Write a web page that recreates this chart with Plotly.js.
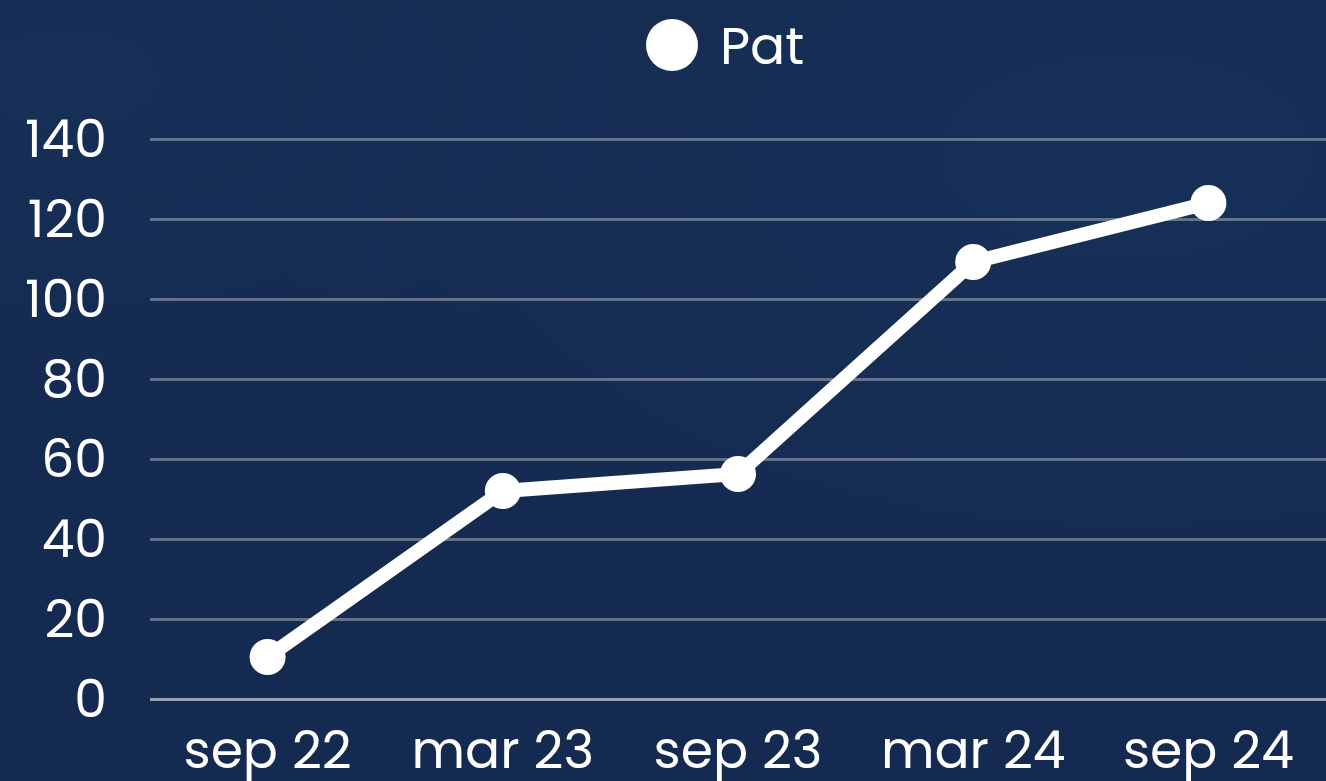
<!DOCTYPE html>
<html>
<head>
<meta charset="utf-8">
<script src="https://cdn.plot.ly/plotly-3.0.1.min.js"></script>
<style>
html,body{margin:0;padding:0;width:1326px;height:781px;overflow:hidden;
background:#152a50;
background-image:radial-gradient(ellipse at 85% 20%, rgba(30,70,120,0.22), rgba(0,0,0,0) 55%),radial-gradient(ellipse at 5% 10%, rgba(30,80,130,0.15), rgba(0,0,0,0) 35%);}
#chart{width:1326px;height:781px;}
</style>
</head>
<body>
<div id="chart"></div>
<script>
const categories = ["sep 22", "mar 23", "sep 23", "mar 24", "sep 24"];
const seriesName = "Pat";
const values = [10.5, 52, 56.25, 109.25, 124];
const yTicks = [0, 20, 40, 60, 80, 100, 120, 140];

const FONT = "Poppins, Inter, 'Open Sans', sans-serif";
const FS = 52;

const trace = {
  x: categories,
  y: values,
  name: seriesName,
  type: "scatter",
  mode: "lines+markers",
  line: {color: "#ffffff", width: 14},
  marker: {color: "#ffffff", size: 36},
  showlegend: false,
  cliponaxis: false,
  hoverinfo: "x+y"
};

const layout = {
  width: 1326, height: 781,
  paper_bgcolor: "rgba(0,0,0,0)",
  plot_bgcolor: "rgba(0,0,0,0)",
  margin: {l: 150, r: 0, t: 130, b: 82},
  font: {family: FONT, color: "#ffffff", size: FS},
  xaxis: {
    type: "category",
    range: [-0.5, 4.5],
    showgrid: false, zeroline: false, showline: false,
    ticks: "",
    tickfont: {family: FONT, size: FS, color: "#ffffff"},
    ticklabelstandoff: 16
  },
  yaxis: {
    range: [0, 142.25],
    tickvals: yTicks,
    ticktext: yTicks.map(String),
    showgrid: true,
    gridcolor: "rgba(255,255,255,0.33)",
    gridwidth: 2.5,
    zeroline: true,
    zerolinecolor: "rgba(255,255,255,0.55)",
    zerolinewidth: 2.5,
    showline: false,
    ticks: "",
    tickfont: {family: FONT, size: FS, color: "#ffffff"},
    ticklabelstandoff: 42
  },
  shapes: [{
    type: "circle",
    xref: "paper", yref: "paper",
    xsizemode: "pixel", ysizemode: "pixel",
    xanchor: (672 - 150) / 1176, yanchor: 1 + (130 - 45) / 569,
    x0: -26, x1: 26, y0: -26, y1: 26,
    fillcolor: "#ffffff", line: {width: 0}
  }],
  annotations: [{
    text: seriesName,
    xref: "paper", yref: "paper",
    x: (718 - 150) / 1176, y: 1 + (130 - 45) / 569,
    xanchor: "left", yanchor: "middle",
    showarrow: false,
    font: {family: FONT, size: FS, color: "#ffffff"}
  }]
};

Plotly.newPlot("chart", [trace], layout, {displayModeBar: false, responsive: false});
</script>
</body>
</html>
